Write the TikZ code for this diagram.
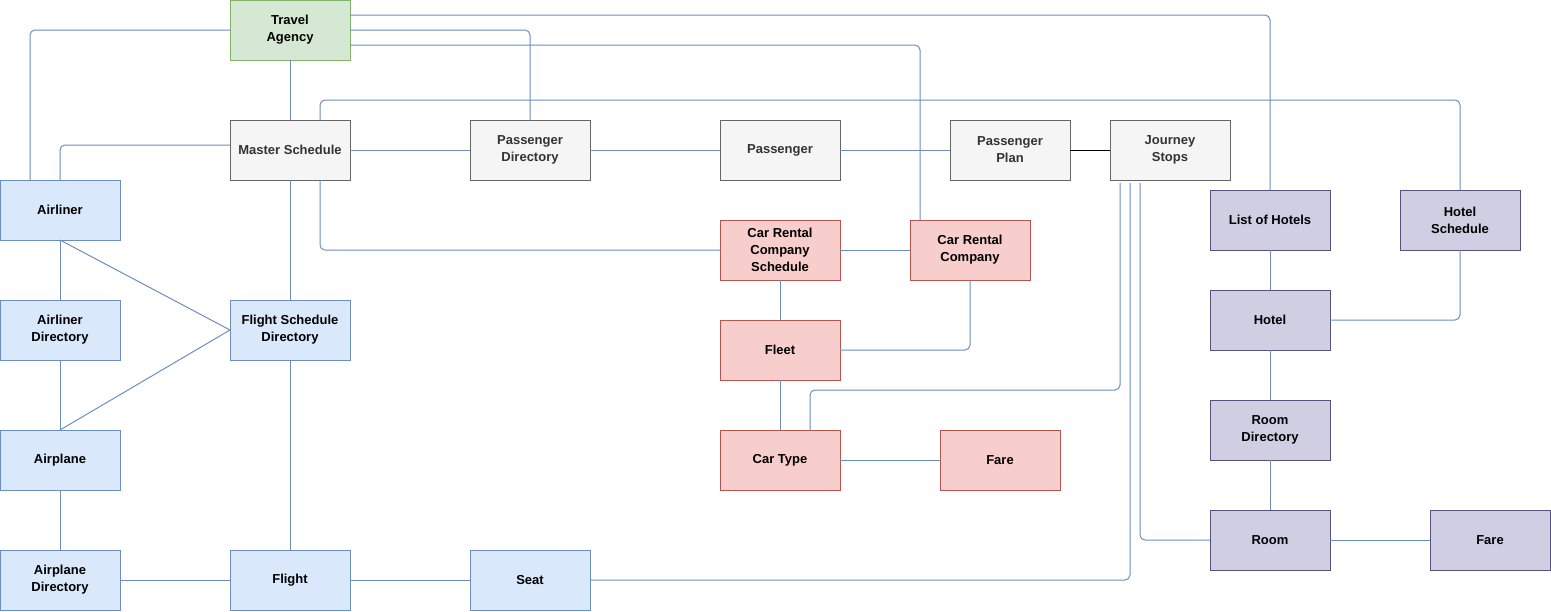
\documentclass[tikz,border=0pt]{standalone}
\usepackage{fontspec}
\setmainfont{Liberation Sans}
\definecolor{gfill}{HTML}{D5E8D4}\definecolor{gline}{HTML}{82B366}
\definecolor{nfill}{HTML}{F5F5F5}\definecolor{nline}{HTML}{666666}\definecolor{ntext}{HTML}{333333}
\definecolor{bfill}{HTML}{DAE8FC}\definecolor{bline}{HTML}{6C8EBF}
\definecolor{rfill}{HTML}{F8CECC}\definecolor{rline}{HTML}{B85450}
\definecolor{pfill}{HTML}{D0CEE2}\definecolor{pline}{HTML}{56517E}
\begin{document}
\begin{tikzpicture}[x=1pt,y=-1pt,
  box/.style={draw, line width=1pt, minimum width=120pt, minimum height=60pt, inner sep=0pt, outer sep=0pt,
    anchor=north west, align=center, font=\fontsize{13}{17}\selectfont\bfseries},
  greenbox/.style={box, fill=gfill, draw=gline},
  greybox/.style={box, fill=nfill, draw=nline, text=ntext},
  bluebox/.style={box, fill=bfill, draw=bline},
  redbox/.style={box, fill=rfill, draw=rline},
  purplebox/.style={box, fill=pfill, draw=pline},
  conn/.style={draw=bline, line width=1pt, rounded corners=5pt},
  blackconn/.style={draw=black, line width=1pt}]
\useasboundingbox (0,0) rectangle (1551,611);
% nodes
\node[greenbox] (ta) at (230,0) {Travel\\Agency};
\node[greybox] (ms) at (230,120) {Master Schedule};
\node[greybox] (pd) at (470,120) {Passenger\\Directory};
\node[greybox] (pa) at (720,120) {Passenger};
\node[greybox] (pp) at (950,120) {Passenger\\Plan};
\node[greybox] (js) at (1110,120) {Journey\\Stops};
\node[bluebox] (airliner) at (0,180) {Airliner};
\node[bluebox] (ad) at (0,300) {Airliner\\Directory};
\node[bluebox] (airplane) at (0,430) {Airplane};
\node[bluebox] (apd) at (0,550) {Airplane\\Directory};
\node[bluebox] (fsd) at (230,300) {Flight Schedule\\Directory};
\node[bluebox] (flight) at (230,550) {Flight};
\node[bluebox] (seat) at (470,550) {Seat};
\node[redbox] (crcs) at (720,220) {Car Rental\\Company\\Schedule};
\node[redbox] (crc) at (910,220) {Car Rental\\Company};
\node[redbox] (fleet) at (720,320) {Fleet};
\node[redbox] (ct) at (720,430) {Car Type};
\node[redbox] (fare1) at (940,430) {Fare};
\node[purplebox] (loh) at (1210,190) {List of Hotels};
\node[purplebox] (hs) at (1400,190) {Hotel\\Schedule};
\node[purplebox] (hotel) at (1210,290) {Hotel};
\node[purplebox] (rd) at (1210,400) {Room\\Directory};
\node[purplebox] (room) at (1210,510) {Room};
\node[purplebox] (fare2) at (1430,510) {Fare};
% connectors
\path[conn] (ta.west) -| ([xshift=-30pt]airliner.north);
\path[conn] (ta.south) -- (ms.north);
\path[conn] ([yshift=15pt]ta.east) -| (loh.north);
\path[conn] (ta.east) -| (pd.north);
\path[conn] ([yshift=-15pt]ta.east) -| ([xshift=-50pt]crc.north);
\path[conn] ([xshift=30pt]ms.north) -- ++(0,-20) -| (hs.north);
\path[conn] ([yshift=5pt]ms.west) -| (airliner.north);
\path[conn] (ms.east) -- (pd.west);
\path[conn] (pd.east) -- (pa.west);
\path[conn] (pa.east) -- (pp.west);
\path[blackconn] (pp.east) -- (js.west);
\path[conn] (ms.south) -- (fsd.north);
\path[conn] ([xshift=30pt]ms.south) |- (crcs.west);
\path[conn] (crcs.east) -- (crc.west);
\path[conn] (crcs.south) -- (fleet.north);
\path[conn] (crc.south) |- (fleet.east);
\path[conn] (fleet.south) -- (ct.north);
\path[conn] (ct.east) -- (fare1.west);
\path[conn] ([xshift=-50pt,yshift=-3pt]js.south) -- ++(0,207) -| ([xshift=30pt]ct.north);
\path[conn] ([xshift=-40pt,yshift=-3pt]js.south) |- (seat.east);
\path[conn] ([xshift=-30pt,yshift=-3pt]js.south) |- (room.west);
\path[conn] (loh.south) -- (hotel.north);
\path[conn] (hotel.east) -| (hs.south);
\path[conn] (hotel.south) -- (rd.north);
\path[conn] (rd.south) -- (room.north);
\path[conn] (room.east) -- (fare2.west);
\path[conn] (airliner.south) -- (ad.north);
\path[conn] (ad.south) -- (airplane.north);
\path[conn] (airplane.south) -- (apd.north);
\path[conn] (apd.east) -- (flight.west);
\path[conn] (flight.east) -- (seat.west);
\path[conn] (fsd.south) -- (flight.north);
\path[conn] (airliner.south) -- (fsd.west);
\path[conn] (airplane.north) -- (fsd.west);
\end{tikzpicture}
\end{document}
